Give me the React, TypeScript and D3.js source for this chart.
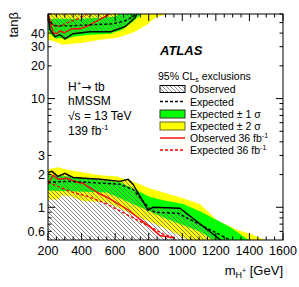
import React from "react";
import * as d3 from "d3";

type P = [number, number];

// x ticks (GeV) and labelled y ticks (tan beta)
const xTickLabels = [200, 400, 600, 800, 1000, 1200, 1400, 1600];
const yTickLabels = [0.6, 1, 2, 3, 10, 20, 30, 40];
const yMinorTicks = [0.6, 0.7, 0.8, 0.9, 2, 3, 4, 5, 6, 7, 8, 9, 20, 30, 40, 50, 60];
const yMajorTicks = [1, 10];

// ---- low tan beta region ----
const yellowUpLow: P[] = [[200, 2.23], [260, 2.33], [307, 2.23], [510, 1.97], [611, 1.92], [706, 1.73], [808, 1.49], [909, 1.34], [1004, 1.21], [1105, 1.07], [1207, 0.76], [1326, 0.62], [1403, 0.57], [1510, 0.49]];
const yellowLoLow: P[] = [[200, 1.18], [260, 1.18], [283, 1.29], [331, 1.26], [409, 1.14], [551, 1.11], [706, 0.86], [909, 0.63], [1046, 0.49]];
const greenUpLow: P[] = [[200, 1.97], [331, 1.92], [510, 1.77], [629, 1.7], [706, 1.49], [808, 1.24], [867, 1.18], [1004, 1.07], [1105, 0.92], [1284, 0.66], [1403, 0.49]];
const greenLoLow: P[] = [[200, 1.43], [551, 1.37], [706, 1.07], [909, 0.78], [1105, 0.6], [1195, 0.49]];
const obsLow: P[] = [[200, 2.09], [224, 2.14], [260, 1.92], [301, 2.05], [349, 1.88], [510, 1.81], [629, 1.73], [677, 1.81], [706, 1.63], [796, 0.94], [825, 1.0], [986, 0.98], [1236, 0.49]];
const expLow: P[] = [[200, 1.7], [331, 1.73], [629, 1.63], [706, 1.46], [808, 0.96], [837, 0.9], [974, 0.88], [1296, 0.49]];
const obs36Low: P[] = [[200, 1.63], [230, 1.97], [260, 1.81], [313, 1.85], [373, 1.7], [408, 1.66], [510, 1.32], [551, 1.24], [671, 0.96], [808, 0.66], [867, 0.55], [957, 0.52]];
const exp36Low: P[] = [[200, 1.7], [271, 1.53], [349, 1.37], [450, 1.24], [551, 1.07], [748, 0.74], [885, 0.57], [957, 0.52]];

// ---- high tan beta region ----
const yellowUpHigh: P[] = [[200, 70], [939, 70]];
const yellowLoHigh: P[] = [[200, 34.7], [242, 33.3], [289, 31.3], [409, 32.6], [510, 34.7], [611, 36.3], [706, 40.3], [790, 47.7], [837, 55.3], [939, 62]];
const greenUpHigh: P[] = [[200, 51], [224, 54.2], [391, 54.2], [510, 55.3], [599, 56.7], [641, 62]];
const greenLoHigh: P[] = [[200, 42.9], [224, 37.8], [248, 35.5], [277, 36.3], [301, 34.7], [349, 37.0], [450, 38.7], [569, 39.5], [641, 42.9], [706, 51.0], [766, 62]];
const obsHigh: P[] = [[200, 62], [212, 42.9], [242, 37.0], [271, 38.7], [301, 35.5], [349, 39.5], [450, 41.2], [575, 41.2], [659, 45.8], [718, 55.3], [736, 62]];
const expHigh: P[] = [[200, 55.3], [224, 48.7], [248, 46.7], [331, 46.7], [450, 47.7], [587, 48.7], [659, 51.9], [706, 56.7], [736, 62]];
const obs36High: P[] = [[200, 62], [212, 51], [230, 40.3], [254, 39.5], [271, 42], [295, 40.3], [343, 43.9], [391, 43.9], [438, 46.7], [492, 51.9], [540, 56.7], [581, 62]];
const exp36High: P[] = [[200, 57.5], [224, 48.7], [248, 45.8], [289, 47.7], [331, 51], [379, 54.2], [426, 59], [438, 62]];

const legendLabels = ["Observed", "Expected", "Expected ± 1 σ", "Expected ± 2 σ", "Observed 36 fb", "Expected 36 fb"];

const FONT = "'Liberation Sans', Arial, Helvetica, sans-serif";

export default function App() {
  const L = 48, R = 283, T = 14, B = 240;
  const x = d3.scaleLinear().domain([200, 1600]).range([L, R]);
  const y = d3.scaleLog().domain([0.5, 60]).range([B, T]);
  const line = d3.line<P>().x((d) => x(d[0])).y((d) => y(d[1]));
  const band = (up: P[], lo: P[]) => (line([...up, ...lo.slice().reverse()]) || "") + "Z";
  const hatchLow = (line([...obsLow, [1236, 0.4], [200, 0.4]]) || "") + "Z";
  const hatchHigh = (line([...obsHigh, [736, 80], [200, 80]]) || "") + "Z";

  const xMinor = d3.range(200, 1601, 50);
  const lw = 1.4;
  const legY = [89, 101.5, 114, 126, 138, 150];

  return (
    <svg width={299} height={287} style={{ display: "block", position: "absolute", left: 0, top: 0 }} fontFamily={FONT}>
      <defs>
        <clipPath id="frame">
          <rect x={L} y={T} width={R - L} height={B - T} />
        </clipPath>
        <pattern id="hatch" patternUnits="userSpaceOnUse" width={4} height={4}>
          <path d="M-1,-1 L5,5 M-1,3 L1,5 M3,-1 L5,1" stroke="#707070" strokeWidth={0.8} />
        </pattern>
      </defs>
      <rect x={0} y={0} width={299} height={287} fill="#fff" />
      <g clipPath="url(#frame)">
        <path d={band(yellowUpLow, yellowLoLow)} fill="#ffff00" />
        <path d={band(greenUpLow, greenLoLow)} fill="#00ff00" />
        <path d={band(yellowUpHigh, yellowLoHigh)} fill="#ffff00" />
        <path d={band(greenUpHigh, greenLoHigh)} fill="#00ff00" />
        <path d={hatchLow} fill="url(#hatch)" />
        <path d={hatchHigh} fill="url(#hatch)" />
        <path d={line(exp36Low) || ""} fill="none" stroke="#ff0000" strokeWidth={lw} strokeDasharray="3,2" />
        <path d={line(exp36High) || ""} fill="none" stroke="#ff0000" strokeWidth={lw} strokeDasharray="3,2" />
        <path d={line(obs36Low) || ""} fill="none" stroke="#ff0000" strokeWidth={lw} />
        <path d={line(obs36High) || ""} fill="none" stroke="#ff0000" strokeWidth={lw} />
        <path d={line(expLow) || ""} fill="none" stroke="#000" strokeWidth={lw} strokeDasharray="3,2" />
        <path d={line(expHigh) || ""} fill="none" stroke="#000" strokeWidth={lw} strokeDasharray="3,2" />
        <path d={line(obsLow) || ""} fill="none" stroke="#000" strokeWidth={lw} />
        <path d={line(obsHigh) || ""} fill="none" stroke="#000" strokeWidth={lw} />
      </g>

      {/* frame */}
      <rect x={L} y={T} width={R - L} height={B - T} fill="none" stroke="#000" strokeWidth={1} />

      {/* x ticks */}
      {xMinor.map((v) => {
        const major = v % 200 === 0;
        const len = major ? 7 : 3.5;
        const px = x(v);
        return (
          <g key={"xt" + v}>
            <line x1={px} x2={px} y1={B} y2={B - len} stroke="#000" strokeWidth={1} />
            <line x1={px} x2={px} y1={T} y2={T + len} stroke="#000" strokeWidth={1} />
          </g>
        );
      })}
      {xTickLabels.map((v) => (
        <text key={"xl" + v} x={x(v)} y={255} fontSize={12.5} textAnchor="middle" fill="#000">
          {v}
        </text>
      ))}

      {/* y ticks */}
      {[...yMinorTicks, ...yMajorTicks].map((v) => {
        const major = yMajorTicks.includes(v);
        const len = major ? 7 : 3.5;
        const py = y(v);
        return (
          <g key={"yt" + v}>
            <line x1={L} x2={L + len} y1={py} y2={py} stroke="#000" strokeWidth={1} />
            <line x1={R} x2={R - len} y1={py} y2={py} stroke="#000" strokeWidth={1} />
          </g>
        );
      })}
      {yTickLabels.map((v) => (
        <text key={"yl" + v} x={45} y={y(v) + 4.5} fontSize={12.5} textAnchor="end" fill="#000">
          {v}
        </text>
      ))}

      {/* axis titles */}
      <text x={283} y={275} fontSize={13} textAnchor="end" fill="#000">
        m<tspan fontSize={9} dy={3}>H</tspan><tspan fontSize={7} dy={-5}>+</tspan><tspan dy={2}> [GeV]</tspan>
      </text>
      <text transform="translate(18,12) rotate(-90)" fontSize={13} textAnchor="end" fill="#000">
        tanβ
      </text>

      {/* annotations */}
      <text x={68} y={91} fontSize={12} fill="#000">
        H<tspan fontSize={8} dy={-5}>+</tspan><tspan dy={5} fontFamily="'DejaVu Sans', sans-serif" fontSize={12}>→</tspan><tspan> tb</tspan>
      </text>
      <text x={68} y={105} fontSize={12} fill="#000">hMSSM</text>
      <text x={68} y={120} fontSize={12} fill="#000">√s = 13 TeV</text>
      <text x={68} y={135} fontSize={12} fill="#000">
        139 fb<tspan fontSize={8} dy={-5}>-1</tspan>
      </text>

      <text x={160} y={55} fontSize={13} fontWeight="bold" fontStyle="italic" fill="#000">ATLAS</text>
      <text x={158} y={79.5} fontSize={10.5} fill="#000">
        95% CL<tspan fontSize={7} dy={2}>s</tspan><tspan dy={-2}> exclusions</tspan>
      </text>

      {/* legend */}
      <rect x={160} y={legY[0] - 3.5} width={25} height={7} fill="url(#hatch)" stroke="#000" strokeWidth={1} />
      <line x1={160} x2={185} y1={legY[1]} y2={legY[1]} stroke="#000" strokeWidth={lw} strokeDasharray="3,2" />
      <rect x={160} y={legY[2] - 4} width={25} height={8} fill="#00ff00" stroke="#333" strokeWidth={1} />
      <rect x={160} y={legY[3] - 4} width={25} height={8} fill="#ffff00" stroke="#666633" strokeWidth={1} />
      <line x1={160} x2={185} y1={legY[4]} y2={legY[4]} stroke="#ff0000" strokeWidth={lw} />
      <line x1={160} x2={185} y1={legY[5]} y2={legY[5]} stroke="#ff0000" strokeWidth={lw} strokeDasharray="3,2" />
      {legendLabels.map((s, i) => (
        <text key={"lg" + i} x={190} y={legY[i] + 4} fontSize={10.5} fill="#000">
          {s}
          {i >= 4 ? <tspan fontSize={7} dy={-4.5}>-1</tspan> : null}
        </text>
      ))}
    </svg>
  );
}
